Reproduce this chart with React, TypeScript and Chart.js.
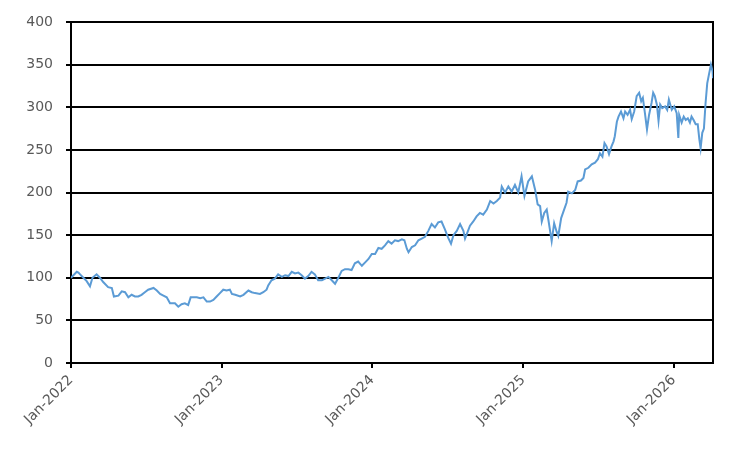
import { useEffect, useRef } from 'react';
import { Chart, registerables } from 'chart.js';

Chart.register(...registerables);

// x axis: days since 1 Jan 2022
const tickDays = [0, 365, 730, 1096, 1461];
const tickLabels = ['Jan-2022', 'Jan-2023', 'Jan-2024', 'Jan-2025', 'Jan-2026'];
const lastDay = 1556;

const days = [
  0, 10, 14, 18, 22, 30, 38, 46, 52, 62, 70, 78, 90, 99, 104, 115, 123, 131, 139, 147,
  155, 163, 171, 179, 187, 200, 208, 216, 224, 232, 240, 252, 260, 268, 276, 284, 290, 296, 305, 313,
  321, 329, 337, 345, 353, 361, 369, 377, 385,
  390, 398, 410, 418, 430, 438, 446, 458, 466, 474, 478, 486, 494, 502, 511, 519, 527, 535, 543, 551,
  559, 567, 575, 583, 591, 599, 608, 616, 624, 632, 640, 648, 656, 664, 672, 680, 688, 696, 705, 713,
  721, 729, 737, 745, 753, 761,
  769, 777, 785, 793, 802, 808, 814, 818, 826, 834, 842, 850, 858, 866, 874, 882, 890, 898, 906, 914,
  921, 927, 935, 943, 951, 955, 959, 967, 975, 983, 991, 999, 1008, 1016, 1024, 1032, 1040, 1044, 1052, 1060,
  1068, 1076, 1084, 1092, 1099, 1108, 1117, 1125,
  1131, 1137, 1141, 1147, 1153, 1157, 1165, 1171, 1177, 1181, 1188, 1196, 1201, 1205, 1214, 1222, 1228, 1236, 1242, 1246,
  1254, 1262, 1270, 1277, 1282, 1288, 1293, 1298, 1304, 1310, 1315, 1318, 1323, 1327, 1333, 1339, 1343, 1349, 1355, 1359,
  1365, 1371, 1377, 1382, 1386, 1391, 1396, 1401, 1407, 1411, 1415, 1420, 1424, 1428, 1433, 1440, 1445, 1449, 1456, 1462,
  1468, 1472, 1474, 1480, 1485, 1490, 1495, 1500, 1504, 1509, 1514, 1519, 1523, 1526, 1530, 1534, 1538, 1542, 1546, 1551,
  1555, 1556,
];

const prices = [
  100, 105, 107, 106, 104, 100, 96, 90, 100, 104, 100, 95, 89, 88, 78, 79, 84, 83, 77, 80,
  78, 78, 80, 83, 86, 88, 85, 81, 79, 77, 70, 70, 66, 69, 70, 68, 77, 77, 77, 76,
  77, 72, 72, 74, 78, 82, 86, 85, 86,
  81, 80, 78, 80, 85, 83, 82, 81, 83, 86, 91, 97, 99, 104, 101, 103, 102, 107, 105, 106,
  103, 99, 102, 107, 104, 97, 97, 99, 101, 97, 93, 100, 108, 110, 110, 109, 117, 119, 114, 118,
  122, 128, 128, 135, 134, 138,
  143, 140, 144, 143, 145, 144, 134, 130, 136, 138, 144, 146, 148, 155, 163, 159, 165, 166, 157, 147,
  140, 150, 155, 163, 155, 146, 151, 161, 166, 172, 176, 174, 180, 190, 187, 190, 194, 207, 200, 207,
  201, 209, 200, 219, 196, 213, 219, 203,
  186, 184, 166, 176, 180, 168, 143, 164, 154, 149, 170, 181, 188, 201, 199, 203, 213, 214, 217, 227,
  229, 233, 235, 239, 246, 242, 258, 254, 245, 254, 260, 266, 283, 289, 295, 287, 295, 291, 297, 286,
  295, 313, 317, 307, 311, 293, 274, 291, 305, 317, 313, 303, 284, 303, 299, 301, 297, 309, 297, 301,
  293, 264, 291, 282, 289, 285, 287, 282, 289, 285, 280, 280, 262, 252, 270, 275, 305, 328, 338, 350,
  342, 334,
];

const labelFont = { family: 'DejaVu Sans', size: 14 };

export default function App() {
  const canvasRef = useRef<HTMLCanvasElement>(null);
  const chartRef = useRef<Chart | null>(null);

  useEffect(() => {
    if (!canvasRef.current) return;
    if (chartRef.current) chartRef.current.destroy();

    chartRef.current = new Chart(canvasRef.current, {
      type: 'line',
      data: {
        datasets: [
          {
            data: days.map((d, i) => ({ x: d, y: prices[i] })),
            borderColor: '#5B9BD5',
            borderWidth: 2,
            pointRadius: 0,
            tension: 0,
            fill: false,
          },
        ],
      },
      options: {
        responsive: true,
        maintainAspectRatio: false,
        animation: false,
        layout: { padding: { top: 22, right: 39, left: 0, bottom: 0 } },
        plugins: {
          legend: { display: false },
          tooltip: { enabled: false },
        },
        scales: {
          x: {
            type: 'linear',
            min: 0,
            max: lastDay,
            afterBuildTicks: (scale: any) => {
              scale.ticks = tickDays.map((v) => ({ value: v }));
            },
            afterFit: (scale: any) => {
              scale.height = 91;
            },
            grid: { drawOnChartArea: false, drawTicks: true, tickLength: 5, color: '#000', lineWidth: 2 },
            border: { color: '#000', width: 2 },
            ticks: {
              autoSkip: false,
              minRotation: 45,
              maxRotation: 45,
              padding: 4,
              color: '#595959',
              font: labelFont,
              callback: (_v: any, i: number) => tickLabels[i],
            },
          },
          y: {
            min: 0,
            max: 400,
            afterFit: (scale: any) => {
              scale.width = 71;
            },
            grid: { color: '#000', lineWidth: 2, tickLength: 5 },
            border: { color: '#000', width: 2 },
            ticks: { stepSize: 50, padding: 13, color: '#595959', font: labelFont },
          },
          y2: {
            position: 'right',
            min: 0,
            max: 400,
            afterFit: (scale: any) => {
              scale.width = 0;
            },
            grid: { drawOnChartArea: false, drawTicks: false },
            border: { color: '#000', width: 2 },
            ticks: { display: false },
          },
        },
      },
    });

    return () => {
      if (chartRef.current) {
        chartRef.current.destroy();
        chartRef.current = null;
      }
    };
  }, []);

  return (
    <div style={{ position: 'fixed', left: 0, top: 0, width: 752, height: 454, background: '#fff' }}>
      <canvas ref={canvasRef} />
    </div>
  );
}
